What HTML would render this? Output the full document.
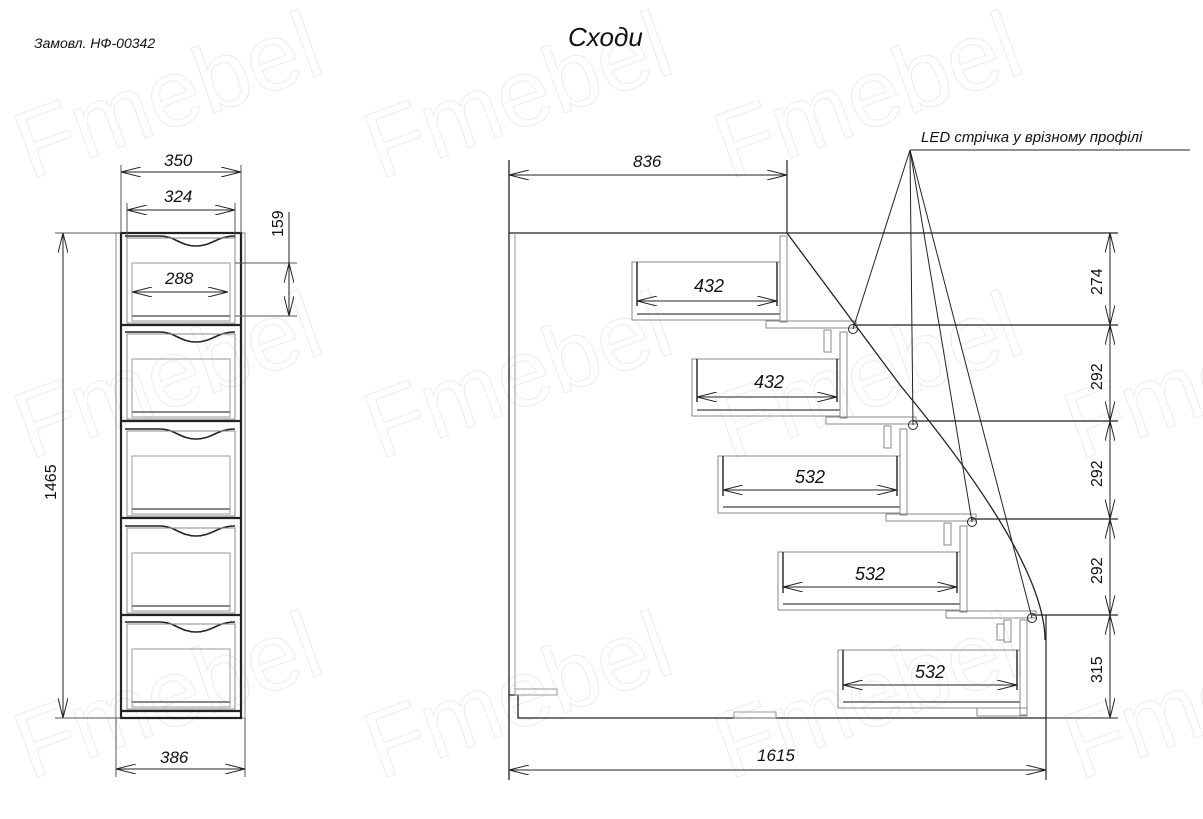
<!DOCTYPE html>
<html><head><meta charset="utf-8"><style>
html,body{margin:0;padding:0;background:#fff;}
svg{display:block;}
text{font-family:"Liberation Sans","DejaVu Sans",sans-serif;font-style:italic;fill:#111;}
</style></head><body>
<svg width="1203" height="819" viewBox="0 0 1203 819" xmlns="http://www.w3.org/2000/svg">
<defs>
<marker id="a" viewBox="0 0 20 10" refX="20" refY="5" markerWidth="20" markerHeight="10" orient="auto-start-reverse" markerUnits="userSpaceOnUse">
<path d="M0 0 L20 5 L0 10" fill="none" stroke="#222" stroke-width="1"/></marker>
</defs>
<!-- watermark -->
<g font-size="95" style="font-style:normal">
<text x="30" y="180" transform="rotate(-20 30 180)" style="fill:none;stroke:#ececec;font-style:normal">Fmebel</text>
<text x="380" y="180" transform="rotate(-20 380 180)" style="fill:none;stroke:#ececec;font-style:normal">Fmebel</text>
<text x="730" y="180" transform="rotate(-20 730 180)" style="fill:none;stroke:#ececec;font-style:normal">Fmebel</text>
<text x="30" y="460" transform="rotate(-20 30 460)" style="fill:none;stroke:#ececec;font-style:normal">Fmebel</text>
<text x="380" y="460" transform="rotate(-20 380 460)" style="fill:none;stroke:#ececec;font-style:normal">Fmebel</text>
<text x="730" y="460" transform="rotate(-20 730 460)" style="fill:none;stroke:#ececec;font-style:normal">Fmebel</text>
<text x="1080" y="460" transform="rotate(-20 1080 460)" style="fill:none;stroke:#ececec;font-style:normal">Fmebel</text>
<text x="30" y="780" transform="rotate(-20 30 780)" style="fill:none;stroke:#ececec;font-style:normal">Fmebel</text>
<text x="380" y="780" transform="rotate(-20 380 780)" style="fill:none;stroke:#ececec;font-style:normal">Fmebel</text>
<text x="730" y="780" transform="rotate(-20 730 780)" style="fill:none;stroke:#ececec;font-style:normal">Fmebel</text>
<text x="1080" y="780" transform="rotate(-20 1080 780)" style="fill:none;stroke:#ececec;font-style:normal">Fmebel</text>
</g>
<text x="34" y="48" font-size="14">Замовл. НФ-00342</text>
<text x="568" y="46" font-size="26">Сходи</text>

<!-- LEFT CABINET -->
<g fill="none" stroke="#222">
<rect x="116" y="233" width="129" height="485" stroke="#888"/>
<rect x="121" y="233" width="120" height="485" stroke-width="2.2"/>
<g id="dr">
<path d="M125 236 H160 C175 236 180 246 196 246 C212 246 217 236 235 236" stroke-width="1.6"/>
<rect x="127" y="238" width="108" height="85" stroke="#888"/>
<rect x="132" y="263" width="98" height="58" stroke="#999"/>
<line x1="132" y1="316" x2="230" y2="316" stroke="#888" stroke-width="2"/>
<line x1="121" y1="325" x2="241" y2="325" stroke-width="2.2"/>
</g>
<use href="#dr" y="96"/>
<use href="#dr" y="193"/>
<use href="#dr" y="290"/>
<use href="#dr" y="386"/>
<line x1="121" y1="165" x2="121" y2="233" stroke="#555"/><line x1="241" y1="165" x2="241" y2="233" stroke="#555"/>
<line x1="121" y1="172" x2="241" y2="172" marker-start="url(#a)" marker-end="url(#a)"/>
<line x1="127" y1="203" x2="127" y2="238" stroke="#555"/><line x1="235" y1="203" x2="235" y2="238" stroke="#555"/>
<line x1="127" y1="210" x2="235" y2="210" marker-start="url(#a)" marker-end="url(#a)"/>
<line x1="132" y1="292" x2="228" y2="292" marker-start="url(#a)" marker-end="url(#a)"/>
<line x1="235" y1="263" x2="297" y2="263" stroke="#555"/><line x1="235" y1="316" x2="297" y2="316" stroke="#555"/>
<line x1="289" y1="212" x2="289" y2="263"/>
<line x1="289" y1="263" x2="289" y2="316" marker-start="url(#a)" marker-end="url(#a)"/>
<line x1="55" y1="233" x2="121" y2="233" stroke="#555"/><line x1="55" y1="718" x2="121" y2="718" stroke="#555"/>
<line x1="63" y1="233" x2="63" y2="718" marker-start="url(#a)" marker-end="url(#a)"/>
<line x1="116" y1="718" x2="116" y2="777" stroke="#555"/><line x1="245" y1="718" x2="245" y2="777" stroke="#555"/>
<line x1="116" y1="769" x2="245" y2="769" marker-start="url(#a)" marker-end="url(#a)"/>
</g>
<text x="164" y="166" font-size="17">350</text>
<text x="164" y="202" font-size="17">324</text>
<text x="165" y="284" font-size="17">288</text>
<text x="160" y="763" font-size="17">386</text>
<text transform="translate(283,237) rotate(-90)" font-size="16" style="font-style:normal">159</text>
<text transform="translate(56,500) rotate(-90)" font-size="16" style="font-style:normal">1465</text>

<!-- RIGHT STAIRS -->
<g fill="none" stroke="#222">
<line x1="509" y1="233" x2="1118" y2="233" stroke-width="1.3"/>
<line x1="509" y1="160" x2="509" y2="780" stroke-width="1.3"/>
<line x1="515" y1="233" x2="515" y2="692" stroke="#999"/>
<path d="M509 695 H518 V718 H1046" stroke-width="1.3"/>
<rect x="515" y="689" width="42" height="6" stroke="#999"/>
<rect x="734" y="712" width="42" height="6" stroke="#999"/>
<line x1="787" y1="160" x2="787" y2="233" stroke-width="1.2"/>
<line x1="787" y1="175" x2="509" y2="175" marker-start="url(#a)" marker-end="url(#a)"/>
<line x1="509" y1="770" x2="1046" y2="770" marker-start="url(#a)" marker-end="url(#a)"/>
<line x1="1046" y1="615" x2="1046" y2="780" stroke-width="1.2"/>
<line x1="1046" y1="718" x2="1118" y2="718"/>
<line x1="1110" y1="233" x2="1110" y2="325" marker-start="url(#a)" marker-end="url(#a)"/>
<line x1="1110" y1="325" x2="1110" y2="421" marker-start="url(#a)" marker-end="url(#a)"/>
<line x1="1110" y1="421" x2="1110" y2="519" marker-start="url(#a)" marker-end="url(#a)"/>
<line x1="1110" y1="519" x2="1110" y2="615" marker-start="url(#a)" marker-end="url(#a)"/>
<line x1="1110" y1="615" x2="1110" y2="718" marker-start="url(#a)" marker-end="url(#a)"/>
<line x1="853" y1="325" x2="1118" y2="325" stroke-width="1.2"/>
<line x1="913" y1="421" x2="1118" y2="421" stroke-width="1.2"/>
<line x1="972" y1="519" x2="1118" y2="519" stroke-width="1.2"/>
<line x1="1032" y1="615" x2="1118" y2="615" stroke-width="1.2"/>
<!-- risers / treads -->
<g id="st" stroke="#888">
<rect x="780" y="236" width="7" height="86"/>
<rect x="766" y="321" width="90" height="7"/>
<rect x="824" y="330" width="7" height="22"/>
</g>
<use href="#st" x="60" y="96"/>
<use href="#st" x="120" y="193"/>
<use href="#st" x="180" y="290"/>
<rect x="1020" y="620" width="7" height="95" stroke="#888"/>
<rect x="997" y="624" width="7" height="16" stroke="#888"/>
<rect x="977" y="708" width="50" height="8" stroke="#888"/>
<!-- drawers -->
<g stroke="#888">
<rect x="632" y="262" width="148" height="58"/>
<rect x="692" y="359" width="148" height="57"/>
<rect x="718" y="456" width="182" height="57"/>
<rect x="778" y="552" width="182" height="58"/>
<rect x="838" y="650" width="182" height="58"/>
<line x1="637" y1="314" x2="780" y2="314" stroke-width="2"/>
<line x1="697" y1="410" x2="840" y2="410" stroke-width="2"/>
<line x1="723" y1="507" x2="900" y2="507" stroke-width="2"/>
<line x1="783" y1="604" x2="960" y2="604" stroke-width="2"/>
<line x1="843" y1="702" x2="1020" y2="702" stroke-width="2"/>
</g>
<g stroke-width="1.4">
<line x1="637" y1="262" x2="637" y2="306"/><line x1="777" y1="262" x2="777" y2="306"/>
<line x1="697" y1="359" x2="697" y2="402"/><line x1="837" y1="359" x2="837" y2="402"/>
<line x1="723" y1="456" x2="723" y2="496"/><line x1="897" y1="456" x2="897" y2="496"/>
<line x1="783" y1="552" x2="783" y2="593"/><line x1="957" y1="552" x2="957" y2="593"/>
<line x1="843" y1="650" x2="843" y2="690"/><line x1="1017" y1="650" x2="1017" y2="690"/>
</g>
<line x1="637" y1="301" x2="777" y2="301" marker-start="url(#a)" marker-end="url(#a)"/>
<line x1="697" y1="397" x2="837" y2="397" marker-start="url(#a)" marker-end="url(#a)"/>
<line x1="723" y1="490" x2="897" y2="490" marker-start="url(#a)" marker-end="url(#a)"/>
<line x1="783" y1="587" x2="957" y2="587" marker-start="url(#a)" marker-end="url(#a)"/>
<line x1="843" y1="685" x2="1017" y2="685" marker-start="url(#a)" marker-end="url(#a)"/>
<path d="M787 233 L900 385 Q1045 560 1045 640" stroke-width="1.3"/>
<line x1="910" y1="150" x2="1190" y2="150"/>
<line x1="910" y1="150" x2="853" y2="329"/>
<line x1="910" y1="150" x2="913" y2="425"/>
<line x1="910" y1="150" x2="972" y2="522"/>
<line x1="910" y1="150" x2="1032" y2="618"/>
<circle cx="853" cy="329" r="4.5"/>
<circle cx="913" cy="425" r="4.5"/>
<circle cx="972" cy="522" r="4.5"/>
<circle cx="1032" cy="618" r="4.5"/>
</g>
<text x="633" y="167" font-size="17">836</text>
<text x="757" y="761" font-size="17">1615</text>
<text x="694" y="292" font-size="18">432</text>
<text x="754" y="388" font-size="18">432</text>
<text x="795" y="483" font-size="18">532</text>
<text x="855" y="580" font-size="18">532</text>
<text x="915" y="678" font-size="18">532</text>
<text x="921" y="142" font-size="15">LED стрічка у врізному профілі</text>
<g font-size="16">
<text transform="translate(1102,295) rotate(-90)" style="font-style:normal">274</text>
<text transform="translate(1102,390) rotate(-90)" style="font-style:normal">292</text>
<text transform="translate(1102,487) rotate(-90)" style="font-style:normal">292</text>
<text transform="translate(1102,584) rotate(-90)" style="font-style:normal">292</text>
<text transform="translate(1102,683) rotate(-90)" style="font-style:normal">315</text>
</g>
</svg>
</body></html>
